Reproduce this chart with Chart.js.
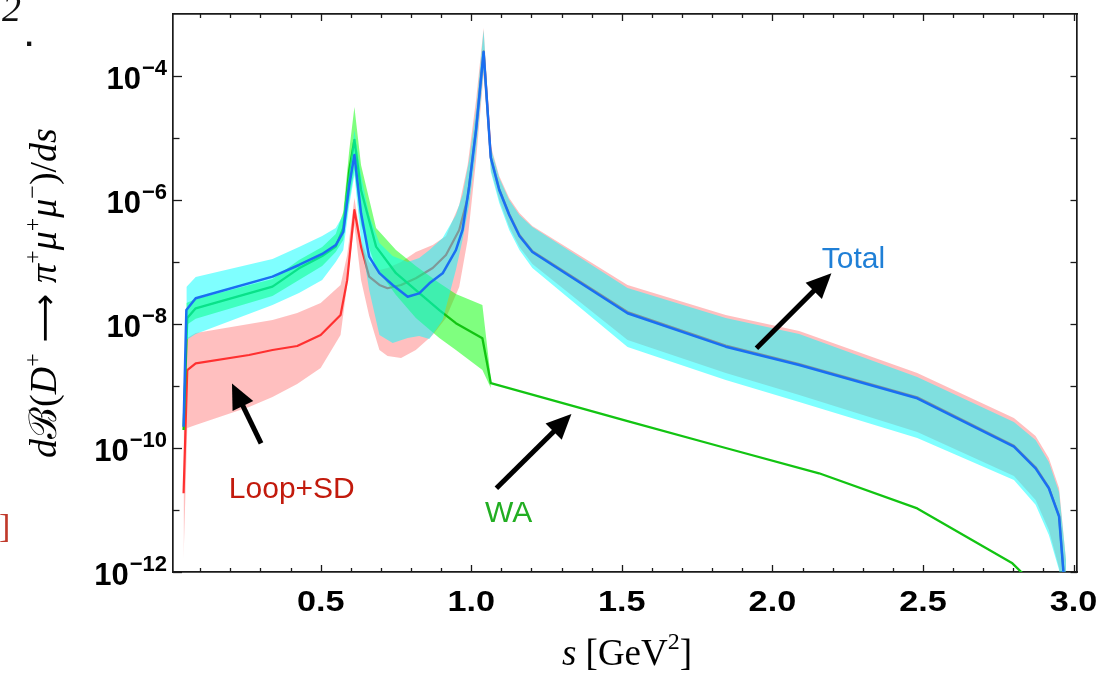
<!DOCTYPE html>
<html>
<head>
<meta charset="utf-8">
<script src="https://cdn.jsdelivr.net/npm/chart.js@4.4.1/dist/chart.umd.min.js"></script>
<style>
html,body{margin:0;padding:0;background:#fff;}
#wrap{position:relative;width:1108px;height:673px;}
canvas{display:block;}
</style>
</head>
<body>
<div id="wrap"><canvas id="c" width="1108" height="673"></canvas></div>
<script>
// ---------------- DATA ----------------
// s in GeV^2, values are dB/ds

// Loop+SD (red): central line and band
const sLoopSD = [0.0447,0.057,0.085,0.262,0.340,0.422,0.500,0.566,0.588,0.605,0.612,0.634,0.661,0.695,0.722,0.767,0.816,0.872,0.916,0.960,0.988,1.016,1.041,1.065,1.093,1.126,1.160,1.203,1.519,1.845,2.089,2.481,2.802,2.874,2.918,2.952,2.975];
const loopSDCentral = [1.86e-11,1.81e-9,2.32e-9,3.16e-9,3.81e-9,4.42e-9,6.65e-9,1.40e-8,5.1e-8,3.28e-7,6.9e-7,1.77e-7,5.8e-8,4.26e-8,3.77e-8,4.26e-8,5.46e-8,8.0e-8,1.30e-7,3.28e-7,1.08e-6,1.40e-5,2.5e-4,4.94e-6,1.50e-6,5.94e-7,2.72e-7,1.50e-7,1.56e-8,4.5e-9,2.26e-9,6.6e-10,1.09e-10,4.9e-11,2.3e-11,8.1e-12,3e-13];
const loopSDUpper = [1.95e-10,5.94e-9,7.16e-9,1.0e-8,1.16e-8,1.50e-8,2.18e-8,4.26e-8,1.30e-7,5.73e-7,1.08e-6,2.26e-7,1.0e-7,7.43e-8,8.0e-8,1.0e-7,1.45e-7,1.88e-7,2.63e-7,8.3e-7,3.66e-6,4.10e-5,5.94e-4,7.43e-6,2.44e-6,1.08e-6,6.17e-7,3.81e-7,4.26e-8,1.40e-8,7.7e-9,1.62e-9,3.05e-10,1.56e-10,6.9e-11,2.26e-11,1.56e-12];
const loopSDLower = [1.56e-12,2.10e-10,2.35e-10,4.58e-10,6.65e-10,1.08e-9,1.95e-9,6.65e-9,4.26e-8,2.26e-7,3.95e-7,5.13e-8,1.35e-8,3.81e-9,3.05e-9,2.83e-9,3.81e-9,6.65e-9,1.25e-8,3.95e-8,2.26e-7,4.42e-6,1.04e-4,3.05e-6,1.0e-6,3.67e-7,1.75e-7,9.29e-8,5.52e-9,1.62e-9,7.16e-10,1.81e-10,3.53e-11,1.45e-11,4.75e-12,1.16e-12,1e-13];

// WA (green): central line
const sWA = [0.0447,0.057,0.085,0.340,0.428,0.505,0.550,0.575,0.595,0.612,0.634,0.684,0.750,0.816,0.894,0.949,1.037,1.065,1.519,1.845,2.155,2.481,2.797,2.860];
const waCentral = [1.95e-10,1.25e-8,1.79e-8,4.0e-8,7.9e-8,1.25e-7,1.77e-7,3.53e-7,3.05e-6,9.3e-6,1.45e-6,1.77e-7,6.6e-8,3.53e-8,1.68e-8,1.03e-8,5.9e-9,1.11e-9,2.72e-10,1.0e-10,3.91e-11,1.06e-11,1.38e-12,6.9e-13];
// WA band
const sWABand = [0.054,0.085,0.340,0.428,0.505,0.550,0.575,0.595,0.612,0.634,0.684,0.750,0.816,0.894,0.949,1.037,1.065];
const waUpper = [2.18e-8,2.53e-8,5.32e-8,1.08e-7,1.75e-7,2.83e-7,6.4e-7,6.4e-6,3.16e-5,3.66e-6,3.53e-7,1.56e-7,8.6e-8,4.58e-8,3.05e-8,2.02e-8,1.35e-9];
const waLower = [9.6e-9,1.21e-8,2.83e-8,5.13e-8,8.6e-8,1.45e-7,2.26e-7,1.0e-6,3.05e-6,3.95e-7,8.0e-8,2.94e-8,1.25e-8,5.94e-9,3.81e-9,1.81e-9,9.29e-10];

// Total (blue line, cyan band)
const sTotal = [0.0447,0.054,0.085,0.340,0.428,0.505,0.550,0.575,0.595,0.612,0.634,0.661,0.695,0.739,0.789,0.827,0.861,0.905,0.949,0.971,0.993,1.016,1.041,1.065,1.093,1.126,1.160,1.203,1.519,1.845,2.089,2.481,2.802,2.874,2.918,2.952,2.975];
const totalCentral = [2.2e-10,1.68e-8,2.6e-8,5.8e-8,8.95e-8,1.35e-7,1.88e-7,3.05e-7,1.75e-6,5.32e-6,6.1e-7,1.22e-7,6.6e-8,4.26e-8,2.75e-8,3.12e-8,4.53e-8,6.58e-8,1.56e-7,3.28e-7,1.64e-6,1.35e-5,2.44e-4,4.75e-6,1.45e-6,5.73e-7,2.63e-7,1.45e-7,1.49e-8,4.31e-9,2.18e-9,6.34e-10,1.05e-10,4.7e-11,2.24e-11,7.8e-12,3e-13];
const sTotalBand = [0.054,0.085,0.340,0.428,0.505,0.550,0.575,0.595,0.612,0.634,0.661,0.695,0.739,0.789,0.827,0.861,0.905,0.949,0.971,0.993,1.016,1.041,1.065,1.093,1.126,1.160,1.203,1.519,1.845,2.089,2.481,2.802,2.874,2.918,2.952,2.975];
const totalUpper = [3.95e-8,5.73e-8,1.12e-7,1.75e-7,2.63e-7,3.53e-7,5.73e-7,3.05e-6,1.35e-5,2.53e-6,5.73e-7,2.02e-7,1.25e-7,1.0e-7,1.16e-7,1.56e-7,2.44e-7,5.73e-7,1.21e-6,4.42e-6,2.83e-5,5.52e-4,6.9e-6,2.26e-6,1.0e-6,5.73e-7,3.67e-7,3.81e-8,1.25e-8,6.9e-9,1.40e-9,2.62e-10,1.35e-10,5.94e-11,1.95e-11,1.56e-12];
const totalLower = [5.52e-9,6.9e-9,2.02e-8,3.16e-8,5.13e-8,1.0e-7,1.56e-7,8.3e-7,2.53e-6,2.26e-7,3.53e-8,6.65e-9,4.94e-9,5.94e-9,6.4e-9,5.73e-9,1.16e-8,7.43e-8,2.26e-7,8.3e-7,6.4e-6,1.25e-4,2.83e-6,8.95e-7,3.28e-7,1.56e-7,8.0e-8,4.26e-9,1.25e-9,5.52e-10,1.45e-10,3.05e-11,1.21e-11,3.95e-12,1.08e-12,1e-13];

// Axis ticks
const xMajorTicks = [0.5,1.0,1.5,2.0,2.5,3.0];
const xTickLabels = ["0.5","1.0","1.5","2.0","2.5","3.0"];
const xMinorTicks = [0.1,0.2,0.3,0.4,0.6,0.7,0.8,0.9,1.1,1.2,1.3,1.4,1.6,1.7,1.8,1.9,2.1,2.2,2.3,2.4,2.6,2.7,2.8,2.9];
const yMajorTicks = [1e-12,1e-10,1e-8,1e-6,1e-4];
const yTickExponents = ["\u221212","\u221210","\u22128","\u22126","\u22124"];
const yMinorTicks = [1e-11,1e-9,1e-7,1e-5];

// ---------------- CHART ----------------
const pts = (xs, ys) => xs.map((x, i) => ({x: x, y: ys[i]}));
const band = {borderWidth: 0, pointRadius: 0, tension: 0};

const datasets = [
  Object.assign({label:'Loop+SD upper', data: pts(sLoopSD, loopSDUpper), order: 5, fill: false}, band),
  Object.assign({label:'Loop+SD lower', data: pts(sLoopSD, loopSDLower), order: 5, fill: '-1', backgroundColor: 'rgba(255,0,0,0.25)'}, band),
  {label:'Loop+SD', data: pts(sLoopSD, loopSDCentral), order: 4, borderColor: '#ff3030', borderWidth: 2.2, pointRadius: 0, tension: 0, fill: false},
  Object.assign({label:'WA upper', data: pts(sWABand, waUpper), order: 3, fill: false}, band),
  Object.assign({label:'WA lower', data: pts(sWABand, waLower), order: 3, fill: '-1', backgroundColor: 'rgba(0,255,0,0.5)'}, band),
  {label:'WA', data: pts(sWA, waCentral), order: 2, borderColor: '#12c412', borderWidth: 2.3, pointRadius: 0, tension: 0, fill: false},
  Object.assign({label:'Total upper', data: pts(sTotalBand, totalUpper), order: 1, fill: false}, band),
  Object.assign({label:'Total lower', data: pts(sTotalBand, totalLower), order: 1, fill: '-1', backgroundColor: 'rgba(0,255,255,0.5)'}, band),
  {label:'Total', data: pts(sTotal, totalCentral), order: 0, borderColor: '#1a6ff2', borderWidth: 2.5, pointRadius: 0, tension: 0, fill: false}
];

const X_MIN = 0.0096, X_MAX = 3.0115;
const axisCommon = {ticks: {display: false}, grid: {display: false, drawTicks: false}, border: {display: true, color: '#1a1a1a', width: 1.7}};

const annotations = [
  {text: 'Total',   s: 2.164, v: 8.0e-8,  color: '#1f7fd6'},
  {text: 'Loop+SD', s: 0.195, v: 1.55e-11, color: '#c21a0c'},
  {text: 'WA',      s: 1.046, v: 6.47e-12, color: '#22ae22'}
];
const arrows = [
  {from: [1.947, 4.06e-9],  to: [2.196, 6.57e-8]},
  {from: [0.302, 1.19e-10], to: [0.2055, 1.10e-9]},
  {from: [1.0835, 2.24e-11], to: [1.3326, 3.53e-10]}
];

function fontFor(st, size) {
  if (st === 'i') return `italic ${size}px "Liberation Serif", "DejaVu Serif", serif`;
  if (st === 's') return `${Math.round(size*0.64)}px "Liberation Serif", "DejaVu Serif", serif`;
  if (st === 'a') return `${Math.round(size*0.9)}px "DejaVu Sans", sans-serif`;
  return `${size}px "Liberation Serif", "DejaVu Serif", serif`;
}
function richWidth(ctx, segs, size) {
  let w = 0;
  for (const [t, st] of segs) { ctx.font = fontFor(st, size); w += ctx.measureText(t).width; }
  return w;
}
function drawRich(ctx, segs, x, y, size) {
  let cx = x;
  for (const [t, st] of segs) {
    ctx.font = fontFor(st, size);
    const dy = st === 's' ? -size*0.42 : 0;
    ctx.fillText(t, cx, y + dy);
    cx += ctx.measureText(t).width;
  }
}

const decorPlugin = {
  id: 'decor',
  afterDraw(chart) {
    const ctx = chart.ctx, a = chart.chartArea;
    const xs = chart.scales.x, ys = chart.scales.y;
    ctx.save();
    // inward ticks on all four sides
    ctx.strokeStyle = '#1a1a1a'; ctx.lineWidth = 1.3;
    const seg = (x1,y1,x2,y2) => { ctx.beginPath(); ctx.moveTo(x1,y1); ctx.lineTo(x2,y2); ctx.stroke(); };
    xMinorTicks.forEach(v => { const p = Math.round(xs.getPixelForValue(v)) + 0.5; seg(p, a.bottom, p, a.bottom-4); seg(p, a.top, p, a.top+4); });
    xMajorTicks.forEach(v => { const p = Math.round(xs.getPixelForValue(v)) + 0.5; seg(p, a.bottom, p, a.bottom-7); seg(p, a.top, p, a.top+7); });
    yMinorTicks.forEach(v => { const p = Math.round(ys.getPixelForValue(v)) + 0.5; seg(a.left, p, a.left+6.5, p); seg(a.right, p, a.right-6.5, p); });
    yMajorTicks.forEach(v => { const p = Math.round(ys.getPixelForValue(v)) + 0.5; seg(a.left, p, a.left+9, p); seg(a.right, p, a.right-6.5, p); });

    // tick labels
    ctx.fillStyle = '#000'; ctx.textBaseline = 'alphabetic';
    ctx.textAlign = 'center';
    ctx.font = 'bold 29px "Liberation Sans", Arial, sans-serif';
    xMajorTicks.forEach((v, i) => {
      const p = xs.getPixelForValue(v);
      ctx.save(); ctx.translate(p, 611); ctx.scale(1.18, 1); ctx.fillText(xTickLabels[i], 0, 0); ctx.restore();
    });
    ctx.textAlign = 'left';
    yMajorTicks.forEach((v, i) => {
      const p = ys.getPixelForValue(v);
      ctx.font = 'bold 22px "Liberation Sans", Arial, sans-serif';
      const sw = ctx.measureText(yTickExponents[i]).width;
      ctx.fillText(yTickExponents[i], 167 - sw, p - 1);
      ctx.font = 'bold 31px "Liberation Sans", Arial, sans-serif';
      const bw = ctx.measureText('10').width;
      ctx.fillText('10', 167 - sw - bw - 1, p + 13);
    });

    // axis titles
    const yTitle = [['d','i'],['\u212C','n'],['(','n'],['D','i'],['+','s'],[' \u27F6 ','a'],['\u03C0','i'],['+','s'],['\u03BC','i'],['+','s'],['\u03BC','i'],['\u2212','s'],[')/','n'],['ds','i']];
    ctx.save();
    ctx.translate(56, 293); ctx.rotate(-Math.PI/2);
    const yw = richWidth(ctx, yTitle, 38);
    drawRich(ctx, yTitle, -yw/2, 0, 38);
    ctx.restore();
    const xTitle = [['s','i'],[' [GeV','n'],['2','s'],[']','n']];
    const xw = richWidth(ctx, xTitle, 37);
    drawRich(ctx, xTitle, 627 - xw/2, 665, 37);

    // annotations
    ctx.font = '30px "Liberation Sans", Arial, sans-serif';
    annotations.forEach(an => {
      ctx.fillStyle = an.color;
      ctx.fillText(an.text, xs.getPixelForValue(an.s), ys.getPixelForValue(an.v));
    });
    ctx.fillStyle = '#000'; ctx.strokeStyle = '#000';
    arrows.forEach(ar => {
      const x1 = xs.getPixelForValue(ar.from[0]), y1 = ys.getPixelForValue(ar.from[1]);
      const x2 = xs.getPixelForValue(ar.to[0]),   y2 = ys.getPixelForValue(ar.to[1]);
      const ang = Math.atan2(y2-y1, x2-x1), hl = 25, hw = 11.5;
      const bx = x2 - hl*Math.cos(ang), by = y2 - hl*Math.sin(ang);
      ctx.lineWidth = 5; ctx.lineCap = 'butt';
      ctx.beginPath(); ctx.moveTo(x1, y1); ctx.lineTo(bx + 2*Math.cos(ang), by + 2*Math.sin(ang)); ctx.stroke();
      ctx.beginPath(); ctx.moveTo(x2, y2);
      ctx.lineTo(bx + hw*Math.sin(ang), by - hw*Math.cos(ang));
      ctx.lineTo(bx - hw*Math.sin(ang), by + hw*Math.cos(ang));
      ctx.closePath(); ctx.fill();
    });

    // page fragments visible at the edges of the reference
    ctx.fillStyle = '#111';
    ctx.font = 'italic 38px "Liberation Serif", serif';
    ctx.fillText('2', 2, 21);
    ctx.font = 'bold 30px "Liberation Sans", sans-serif';
    ctx.fillText('.', 25, 46);
    ctx.fillStyle = '#c0392b';
    ctx.font = '34px "Liberation Serif", serif';
    ctx.fillText(']', -1, 537);
    ctx.restore();
  }
};

new Chart(document.getElementById('c'), {
  type: 'line',
  data: {datasets: datasets},
  options: {
    responsive: false,
    animation: false,
    devicePixelRatio: 1,
    layout: {padding: {left: 173, right: 31, top: 14, bottom: 101}},
    plugins: {legend: {display: false}, tooltip: {enabled: false}, title: {display: false}},
    elements: {line: {borderJoinStyle: 'round', borderCapStyle: 'butt'}},
    scales: {
      x:  Object.assign({type: 'linear', position: 'bottom', min: X_MIN, max: X_MAX}, JSON.parse(JSON.stringify(axisCommon))),
      x2: Object.assign({type: 'linear', position: 'top', min: X_MIN, max: X_MAX}, JSON.parse(JSON.stringify(axisCommon))),
      y:  Object.assign({type: 'logarithmic', position: 'left', min: 1e-12, max: 1e-3}, JSON.parse(JSON.stringify(axisCommon))),
      y2: Object.assign({type: 'logarithmic', position: 'right', min: 1e-12, max: 1e-3}, JSON.parse(JSON.stringify(axisCommon)))
    }
  },
  plugins: [decorPlugin]
});
</script>
</body>
</html>
